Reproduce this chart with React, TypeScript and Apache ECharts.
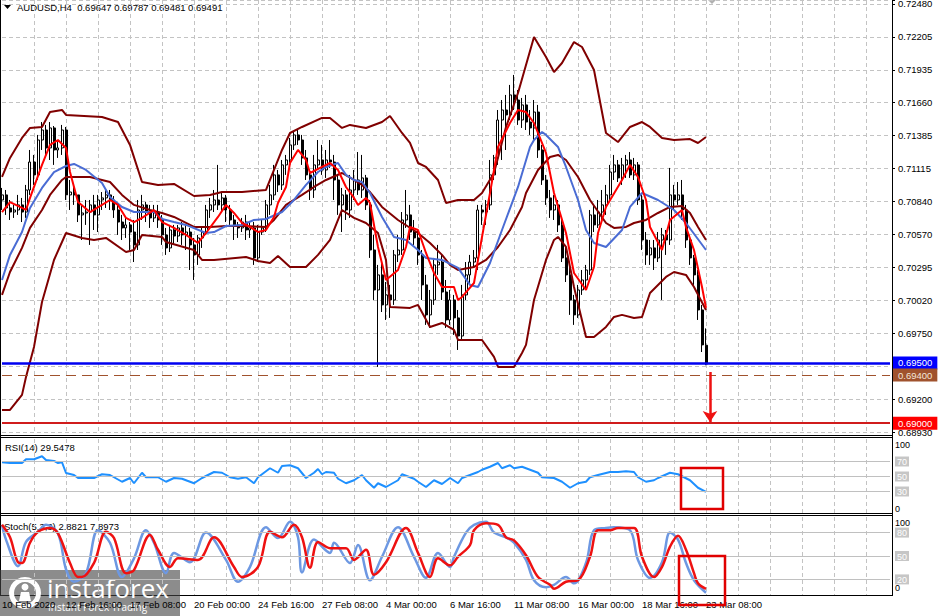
import React, { useEffect, useRef } from 'react';
import * as echarts from 'echarts';

const FONT = '"Liberation Sans", Arial, Helvetica, sans-serif';

// ---------- axes ----------
const SLOT_COUNT = 223; // bar slots across the chart width (4px each)
const X_LABEL_EVERY = 16;
const X_GRID_EVERY = 8;
const xTickLabels = [
  '10 Feb 2020', '12 Feb 16:00', '17 Feb 08:00', '20 Feb 00:00', '24 Feb 16:00', '27 Feb 08:00',
  '4 Mar 00:00', '6 Mar 16:00', '11 Mar 08:00', '16 Mar 00:00', '18 Mar 16:00', '23 Mar 08:00',
];

const Y_MIN = 0.68927;
const Y_MAX = 0.72513;
const Y_STEP = 0.0027333;
const yTickLabels = [
  '0.68930', '0.69200', '', '0.69750', '0.70020', '0.70295', '0.70570',
  '0.70840', '0.71115', '0.71385', '0.71660', '0.71935', '0.72205', '0.72480',
];

// ---------- candles (AUDUSD H4) ----------
const open = [
  0.70853, 0.70895, 0.70787, 0.70753, 0.70770, 0.70812, 0.70753, 0.70936, 0.71168, 0.71061,
  0.71351, 0.71434, 0.71285, 0.71451, 0.71268, 0.71285, 0.71434, 0.70895, 0.70919, 0.70895,
  0.70729, 0.70745, 0.70753, 0.70812, 0.70729, 0.70853, 0.70870, 0.70895, 0.70853, 0.70770,
  0.70670, 0.70621, 0.70646, 0.70587, 0.70480, 0.70770, 0.70812, 0.70753, 0.70704, 0.70753,
  0.70687, 0.70563, 0.70455, 0.70604, 0.70554, 0.70621, 0.70563, 0.70587, 0.70480, 0.70397,
  0.70538, 0.70587, 0.70770, 0.70812, 0.70853, 0.70812, 0.70870, 0.70770, 0.70687, 0.70646,
  0.70621, 0.70670, 0.70604, 0.70621, 0.70372, 0.70587, 0.70621, 0.70812, 0.70895, 0.71061,
  0.70978, 0.71144, 0.71185, 0.71310, 0.71393, 0.71351, 0.71202, 0.71061, 0.70936, 0.71144,
  0.71185, 0.71102, 0.71185, 0.71168, 0.71019, 0.70812, 0.70895, 0.70770, 0.70936, 0.71019,
  0.70936, 0.71036, 0.70812, 0.70438, 0.70106, 0.70231, 0.69982, 0.70065, 0.70023, 0.70397,
  0.70438, 0.70687, 0.70729, 0.70587, 0.70538, 0.70397, 0.70148, 0.69899, 0.70023, 0.70314,
  0.70338, 0.70089, 0.69857, 0.70023, 0.69874, 0.69724, 0.70065, 0.70231, 0.70338, 0.70372,
  0.70770, 0.70753, 0.70812, 0.71061, 0.71202, 0.71517, 0.71600, 0.71559, 0.71725, 0.71683,
  0.71517, 0.71642, 0.71500, 0.71451, 0.71583, 0.71268, 0.71019, 0.70870, 0.70770, 0.70812,
  0.70646, 0.70372, 0.70231, 0.70023, 0.69899, 0.70106, 0.70189, 0.70272, 0.70729, 0.70646,
  0.70753, 0.70812, 0.70895, 0.71085, 0.71144, 0.71036, 0.71144, 0.71185, 0.71061, 0.71144,
  0.70853, 0.70521, 0.70397, 0.70455, 0.70372, 0.70521, 0.70563, 0.70521, 0.70895, 0.70853,
  0.70895, 0.70770, 0.70521, 0.70372, 0.70231, 0.69940, 0.69647,
];
const close = [
  0.70895, 0.70787, 0.70753, 0.70770, 0.70812, 0.70753, 0.70936, 0.71168, 0.71061, 0.71351,
  0.71434, 0.71285, 0.71451, 0.71268, 0.71285, 0.71434, 0.70895, 0.70919, 0.70895, 0.70729,
  0.70745, 0.70753, 0.70812, 0.70729, 0.70853, 0.70870, 0.70895, 0.70853, 0.70770, 0.70670,
  0.70621, 0.70646, 0.70587, 0.70480, 0.70770, 0.70812, 0.70753, 0.70704, 0.70753, 0.70687,
  0.70563, 0.70455, 0.70604, 0.70554, 0.70621, 0.70563, 0.70587, 0.70480, 0.70397, 0.70538,
  0.70587, 0.70770, 0.70812, 0.70853, 0.70812, 0.70870, 0.70770, 0.70687, 0.70646, 0.70621,
  0.70670, 0.70604, 0.70621, 0.70372, 0.70587, 0.70621, 0.70812, 0.70895, 0.71061, 0.70978,
  0.71144, 0.71185, 0.71310, 0.71393, 0.71351, 0.71202, 0.71061, 0.70936, 0.71144, 0.71185,
  0.71102, 0.71185, 0.71168, 0.71019, 0.70812, 0.70895, 0.70770, 0.70936, 0.71019, 0.70936,
  0.71036, 0.70812, 0.70438, 0.70106, 0.70231, 0.69982, 0.70065, 0.70023, 0.70397, 0.70438,
  0.70687, 0.70729, 0.70587, 0.70538, 0.70397, 0.70148, 0.69899, 0.70023, 0.70314, 0.70338,
  0.70089, 0.69857, 0.70023, 0.69874, 0.69724, 0.70065, 0.70231, 0.70338, 0.70372, 0.70770,
  0.70753, 0.70812, 0.71061, 0.71202, 0.71517, 0.71600, 0.71559, 0.71725, 0.71683, 0.71517,
  0.71642, 0.71500, 0.71451, 0.71583, 0.71268, 0.71019, 0.70870, 0.70770, 0.70812, 0.70646,
  0.70372, 0.70231, 0.70023, 0.69899, 0.70106, 0.70189, 0.70272, 0.70729, 0.70646, 0.70753,
  0.70812, 0.70895, 0.71085, 0.71144, 0.71036, 0.71144, 0.71185, 0.71061, 0.71144, 0.70853,
  0.70521, 0.70397, 0.70455, 0.70372, 0.70521, 0.70563, 0.70521, 0.70895, 0.70853, 0.70895,
  0.70770, 0.70521, 0.70372, 0.70231, 0.69940, 0.69650, 0.69491,
];
const high = [
  0.70953, 0.70936, 0.70853, 0.70812, 0.70895, 0.70870, 0.70978, 0.71268, 0.71227, 0.71393,
  0.71500, 0.71476, 0.71500, 0.71467, 0.71351, 0.71476, 0.71459, 0.71019, 0.70978, 0.70895,
  0.70812, 0.70853, 0.70853, 0.70895, 0.70895, 0.70919, 0.70936, 0.70936, 0.70886, 0.70812,
  0.70729, 0.70704, 0.70670, 0.70687, 0.70853, 0.70895, 0.70836, 0.70812, 0.70812, 0.70812,
  0.70729, 0.70621, 0.70646, 0.70646, 0.70646, 0.70670, 0.70646, 0.70621, 0.70538, 0.70563,
  0.70621, 0.70812, 0.70870, 0.70936, 0.71144, 0.70919, 0.70895, 0.70812, 0.70729, 0.70670,
  0.70704, 0.70729, 0.70670, 0.70670, 0.70646, 0.70687, 0.70853, 0.70978, 0.71144, 0.71102,
  0.71185, 0.71227, 0.71368, 0.71417, 0.71434, 0.71393, 0.71268, 0.71102, 0.71227, 0.71351,
  0.71310, 0.71268, 0.71351, 0.71227, 0.71061, 0.70953, 0.70936, 0.71061, 0.71102, 0.71251,
  0.71227, 0.71061, 0.70853, 0.70563, 0.70314, 0.70355, 0.70172, 0.70148, 0.70438, 0.70563,
  0.70753, 0.70936, 0.70812, 0.70687, 0.70604, 0.70438, 0.70231, 0.70106, 0.70372, 0.70480,
  0.70397, 0.70189, 0.70106, 0.70065, 0.69940, 0.70148, 0.70338, 0.70397, 0.70438, 0.70812,
  0.70812, 0.70853, 0.71185, 0.71227, 0.71600, 0.71683, 0.71725, 0.71808, 0.71891, 0.71766,
  0.71700, 0.71725, 0.71600, 0.71683, 0.71642, 0.71310, 0.71061, 0.70936, 0.70895, 0.70853,
  0.70704, 0.70480, 0.70314, 0.70065, 0.70148, 0.70272, 0.70314, 0.70770, 0.70812, 0.70853,
  0.70936, 0.70978, 0.71144, 0.71227, 0.71185, 0.71202, 0.71227, 0.71251, 0.71202, 0.71168,
  0.70895, 0.70587, 0.70521, 0.70521, 0.70587, 0.70621, 0.70604, 0.71119, 0.70978, 0.71002,
  0.71019, 0.70812, 0.70563, 0.70397, 0.70272, 0.69982, 0.69787,
];
const low = [
  0.70770, 0.70729, 0.70687, 0.70704, 0.70729, 0.70670, 0.70704, 0.70895, 0.70978, 0.71019,
  0.71268, 0.71227, 0.71185, 0.71144, 0.71202, 0.71227, 0.70853, 0.70770, 0.70812, 0.70670,
  0.70521, 0.70646, 0.70480, 0.70604, 0.70587, 0.70770, 0.70787, 0.70770, 0.70704, 0.70563,
  0.70521, 0.70538, 0.70438, 0.70338, 0.70438, 0.70687, 0.70670, 0.70621, 0.70670, 0.70621,
  0.70480, 0.70397, 0.70421, 0.70480, 0.70504, 0.70480, 0.70438, 0.70272, 0.70189, 0.70314,
  0.70455, 0.70563, 0.70704, 0.70753, 0.70770, 0.70753, 0.70670, 0.70646, 0.70521, 0.70538,
  0.70587, 0.70521, 0.70538, 0.70314, 0.70338, 0.70563, 0.70587, 0.70729, 0.70853, 0.70919,
  0.70936, 0.71061, 0.71144, 0.71268, 0.71310, 0.71144, 0.71019, 0.70853, 0.70870, 0.71102,
  0.71061, 0.71036, 0.71119, 0.70853, 0.70729, 0.70587, 0.70687, 0.70704, 0.70853, 0.70895,
  0.70870, 0.70770, 0.70372, 0.70023, 0.69467, 0.69923, 0.69857, 0.69874, 0.69982, 0.70338,
  0.70397, 0.70621, 0.70521, 0.70480, 0.70314, 0.70023, 0.69816, 0.69791, 0.69982, 0.70231,
  0.70023, 0.69791, 0.69816, 0.69733, 0.69608, 0.69691, 0.70023, 0.70148, 0.70289, 0.70272,
  0.70646, 0.70646, 0.70770, 0.71019, 0.71144, 0.71185, 0.71268, 0.71517, 0.71600, 0.71476,
  0.71451, 0.71434, 0.71393, 0.71351, 0.71202, 0.70978, 0.70812, 0.70704, 0.70687, 0.70587,
  0.70338, 0.70172, 0.69899, 0.69816, 0.69874, 0.70065, 0.70106, 0.70231, 0.70587, 0.70621,
  0.70670, 0.70729, 0.70853, 0.71019, 0.71002, 0.70978, 0.71036, 0.71036, 0.71019, 0.70812,
  0.70438, 0.70314, 0.70314, 0.70272, 0.70338, 0.70023, 0.70397, 0.70480, 0.70770, 0.70812,
  0.70687, 0.70455, 0.70314, 0.70148, 0.69857, 0.69591, 0.69481,
];

// ---------- overlays: [bar index, price] ----------
const bbUpper: [number, number][] = [
  [0, 0.71044], [2, 0.71202], [5, 0.71368], [7, 0.71451], [10, 0.71459], [12, 0.71583], [15, 0.71600],
  [16, 0.71559], [25, 0.71542], [29, 0.71500], [32, 0.71310], [35, 0.71002], [39, 0.70978], [43, 0.70986],
  [48, 0.70886], [52, 0.70895], [55, 0.70919], [60, 0.70919], [66, 0.70936], [68, 0.71102], [70, 0.71268],
  [72, 0.71409], [75, 0.71459], [80, 0.71534], [82, 0.71534], [85, 0.71451], [87, 0.71476], [91, 0.71451],
  [95, 0.71500], [97, 0.71550], [100, 0.71409], [102, 0.71326], [104, 0.71160], [106, 0.71127], [109, 0.71019],
  [111, 0.70828], [114, 0.70853], [118, 0.70853], [120, 0.70911], [123, 0.71077], [126, 0.71459], [129, 0.71741],
  [133, 0.72206], [136, 0.72040], [138, 0.71915], [140, 0.71990], [143, 0.72164], [145, 0.72123], [148, 0.71932],
  [151, 0.71409], [154, 0.71334], [157, 0.71459], [160, 0.71500], [162, 0.71459], [165, 0.71368], [168, 0.71351],
  [172, 0.71359], [174, 0.71326], [176, 0.71376],
];
const bbMiddle: [number, number][] = [
  [0, 0.70065], [2, 0.70255], [5, 0.70455], [7, 0.70621], [10, 0.70770], [12, 0.70895], [15, 0.71019],
  [16, 0.71044], [22, 0.71044], [27, 0.71002], [30, 0.70895], [33, 0.70812], [37, 0.70770], [40, 0.70745],
  [43, 0.70712], [48, 0.70629], [52, 0.70629], [56, 0.70637], [60, 0.70637], [66, 0.70629], [68, 0.70687],
  [71, 0.70812], [75, 0.70895], [78, 0.70961], [81, 0.71019], [85, 0.71077], [88, 0.71019], [90, 0.70978],
  [92, 0.70919], [95, 0.70795], [99, 0.70687], [104, 0.70579], [107, 0.70496], [110, 0.70397], [112, 0.70314],
  [114, 0.70272], [118, 0.70297], [121, 0.70355], [124, 0.70463], [127, 0.70604], [130, 0.70795], [131, 0.70911],
  [134, 0.71102], [137, 0.71210], [139, 0.71227], [141, 0.71185], [144, 0.71044], [147, 0.70853], [151, 0.70662],
  [153, 0.70621], [156, 0.70629], [158, 0.70662], [161, 0.70687], [164, 0.70745], [167, 0.70795], [170, 0.70803],
  [172, 0.70745], [174, 0.70629], [176, 0.70521],
];
const bbLower: [number, number][] = [
  [0, 0.69110], [2, 0.69110], [5, 0.69235], [6, 0.69384], [8, 0.69633], [10, 0.70006], [13, 0.70355],
  [16, 0.70579], [20, 0.70538], [23, 0.70521], [26, 0.70538], [31, 0.70421], [33, 0.70438], [35, 0.70563],
  [40, 0.70546], [41, 0.70504], [48, 0.70438], [50, 0.70355], [53, 0.70355], [61, 0.70380], [64, 0.70347],
  [67, 0.70330], [69, 0.70388], [72, 0.70297], [76, 0.70297], [79, 0.70397], [82, 0.70521], [85, 0.70770],
  [88, 0.70704], [91, 0.70662], [94, 0.70579], [96, 0.70355], [97, 0.69965], [102, 0.69957], [104, 0.69982],
  [107, 0.69799], [110, 0.69832], [113, 0.69774], [114, 0.69691], [120, 0.69691], [123, 0.69550], [124, 0.69467],
  [128, 0.69467], [130, 0.69583], [131, 0.69650], [133, 0.70023], [136, 0.70355], [138, 0.70521], [139, 0.70546],
  [141, 0.70463], [143, 0.70131], [146, 0.69716], [148, 0.69716], [151, 0.69799], [153, 0.69882], [155, 0.69899],
  [158, 0.69874], [160, 0.69882], [162, 0.70081], [166, 0.70214], [168, 0.70255], [171, 0.70231], [173, 0.70131],
  [176, 0.69940],
];
const slowMa: [number, number][] = [
  [0, 0.70189], [2, 0.70397], [5, 0.70587], [7, 0.70787], [10, 0.70953], [13, 0.71085], [16, 0.71135],
  [18, 0.71152], [21, 0.71102], [25, 0.70994], [27, 0.70878], [30, 0.70795], [33, 0.70753], [38, 0.70753],
  [40, 0.70695], [43, 0.70670], [46, 0.70646], [51, 0.70579], [53, 0.70587], [56, 0.70637], [60, 0.70646],
  [63, 0.70687], [66, 0.70695], [70, 0.70753], [73, 0.70853], [76, 0.70978], [79, 0.71085], [81, 0.71127],
  [84, 0.71160], [86, 0.71061], [88, 0.71019], [90, 0.71002], [92, 0.70911], [95, 0.70712], [98, 0.70546],
  [101, 0.70521], [104, 0.70438], [106, 0.70372], [110, 0.70355], [114, 0.70289], [117, 0.70148], [119, 0.70131],
  [122, 0.70330], [125, 0.70604], [129, 0.70961], [132, 0.71293], [133, 0.71351], [135, 0.71417], [136, 0.71393],
  [139, 0.71293], [141, 0.71127], [144, 0.70853], [146, 0.70604], [148, 0.70496], [151, 0.70463], [155, 0.70604],
  [157, 0.70795], [160, 0.70911], [164, 0.70853], [168, 0.70770], [171, 0.70662], [176, 0.70438],
];
const fastMa: [number, number][] = [
  [0, 0.70753], [2, 0.70836], [5, 0.70787], [6, 0.70770], [7, 0.70870], [10, 0.71144], [12, 0.71310],
  [14, 0.71351], [16, 0.71285], [17, 0.71085], [19, 0.70836], [22, 0.70753], [25, 0.70812], [27, 0.70853],
  [29, 0.70812], [31, 0.70704], [33, 0.70670], [35, 0.70704], [38, 0.70770], [40, 0.70670], [43, 0.70621],
  [46, 0.70563], [49, 0.70496], [51, 0.70579], [54, 0.70712], [56, 0.70812], [58, 0.70745], [60, 0.70662],
  [62, 0.70629], [64, 0.70587], [66, 0.70604], [68, 0.70712], [69, 0.70828], [71, 0.70961], [72, 0.71160],
  [74, 0.71268], [76, 0.71185], [77, 0.71077], [80, 0.71127], [82, 0.71160], [84, 0.71102], [86, 0.70961],
  [88, 0.70870], [89, 0.70812], [91, 0.70870], [92, 0.70828], [94, 0.70463], [96, 0.70189], [99, 0.70272],
  [101, 0.70463], [102, 0.70629], [104, 0.70604], [106, 0.70413], [108, 0.70247], [110, 0.70131], [113, 0.70131],
  [114, 0.70023], [115, 0.70048], [118, 0.70164], [120, 0.70546], [122, 0.70911], [124, 0.71293], [127, 0.71492],
  [129, 0.71600], [131, 0.71583], [133, 0.71492], [136, 0.71243], [138, 0.70911], [141, 0.70579], [143, 0.70247],
  [146, 0.70106], [148, 0.70297], [149, 0.70579], [151, 0.70795], [155, 0.71019], [157, 0.71144], [159, 0.71044],
  [161, 0.70853], [162, 0.70629], [165, 0.70438], [167, 0.70687], [170, 0.70770], [171, 0.70629], [173, 0.70438],
  [175, 0.70131], [176, 0.69957],
];

// ---------- horizontal levels / arrow ----------
const priceLevels = [0.695, 0.694, 0.69];
const arrowBar = 177;
const arrowFrom = 0.69425;
const arrowTo = 0.6901;

// ---------- RSI(14) ----------
const rsiValue = '29.5478';
const rsiLevels = [70, 50, 30];
const rsi: [number, number][] = [
  [0, 69], [2, 68], [5, 68], [6, 73], [8, 73], [10, 77], [11, 72], [13, 70.7], [14, 68], [15, 69], [16, 54.7],
  [18, 52], [19, 48], [21, 48], [23, 48], [25, 53], [27, 52], [30, 43], [32, 48], [33, 41], [35, 55], [36, 49],
  [39, 49], [41, 43], [43, 48], [45, 47], [48, 41], [50, 48], [53, 56], [55, 55], [57, 49], [59, 47], [61, 49],
  [63, 41], [64, 49], [67, 61], [69, 55], [70, 64], [72, 65], [74, 61], [76, 48], [78, 55], [79, 60], [80, 53],
  [81, 56], [83, 55], [84, 47], [86, 41], [88, 45], [90, 52], [91, 45], [93, 35], [94, 41], [96, 36], [97, 39],
  [99, 45], [100, 53], [103, 47], [104, 43], [106, 36], [108, 45], [110, 40], [112, 48], [114, 41], [115, 48],
  [117, 52], [119, 56], [120, 59], [122, 63], [124, 68], [125, 61], [127, 65], [128, 61], [130, 63], [132, 59],
  [134, 55], [135, 49], [138, 48], [140, 43], [142, 35], [144, 41], [146, 43], [147, 49], [149, 52], [152, 56],
  [154, 56], [156, 57], [158, 56], [159, 49], [161, 43], [163, 45], [164, 48], [167, 55], [169, 53], [172, 45],
  [174, 35], [176, 29.55],
];

// ---------- Stochastic(5,3,3) ----------
const stochMainValue = '2.8821';
const stochSignalValue = '7.8973';
const stochLevels = [80, 50, 20];
const stochMain: [number, number][] = [
  [0, 90], [1, 71], [4, 37], [6, 68], [9, 81], [11, 90], [14, 79], [16, 33], [18, 17], [21, 28], [24, 83],
  [27, 67], [30, 23], [33, 47], [36, 83], [38, 67], [41, 28], [43, 54], [47, 42], [51, 80], [56, 45], [59, 17],
  [62, 36], [66, 87], [69, 73], [72, 94], [74, 74], [75, 29], [78, 71], [82, 54], [83, 67], [87, 41], [89, 64],
  [92, 19], [95, 49], [99, 87], [103, 49], [106, 22], [109, 54], [112, 36], [113, 49], [116, 80], [118, 90],
  [121, 94], [123, 80], [126, 74], [128, 67], [131, 45], [133, 19], [136, 10], [138, 13], [141, 23], [143, 15],
  [146, 41], [148, 83], [151, 86], [153, 87], [157, 83], [159, 45], [162, 22], [165, 42], [167, 80], [169, 71],
  [171, 41], [173, 19], [176, 2.9],
];
const stochSignal: [number, number][] = [
  [0, 90], [2, 74], [4, 42], [5, 41], [7, 67], [9, 81], [12, 86], [14, 79], [17, 41], [19, 23], [20, 23],
  [23, 41], [26, 81], [28, 73], [31, 28], [33, 32], [37, 77], [39, 58], [42, 36], [44, 47], [49, 45], [53, 74],
  [58, 36], [60, 23], [64, 36], [67, 81], [70, 74], [73, 90], [75, 74], [77, 35], [79, 68], [82, 60], [86, 60],
  [88, 45], [91, 58], [93, 26], [96, 42], [101, 86], [104, 54], [107, 23], [109, 47], [112, 38], [114, 49],
  [117, 64], [118, 83], [121, 92], [124, 90], [126, 74], [128, 70], [131, 51], [134, 23], [137, 13], [138, 8],
  [141, 17], [144, 19], [147, 49], [149, 83], [152, 83], [154, 86], [158, 86], [160, 49], [163, 23], [165, 36],
  [167, 62], [169, 76], [171, 58], [173, 28], [174, 15], [176, 7.9],
];

function buildOption(): any {
  const cats = Array.from({ length: SLOT_COUNT }, (_, i) => String(i));
  const candles = open.map((o, i) => [o, close[i], low[i], high[i]]);
  const dash = { color: '#c3c3c3', type: [4, 3], width: 1 };
  const grids = [
    { left: 2, top: 0, width: 888, height: 432 },
    { left: 2, top: 439, width: 888, height: 75 },
    { left: 2, top: 517, width: 888, height: 78 },
  ].map((g) => ({ ...g, show: false, containLabel: false, outerBoundsMode: 'none' }));

  const xAxis = [0, 1, 2].map((gi) => ({
    type: 'category',
    gridIndex: gi,
    data: cats,
    boundaryGap: false,
    axisLine: { show: false },
    axisTick: { show: false },
    axisLabel:
      gi === 2
        ? {
            show: true,
            interval: (i: number) => i % X_LABEL_EVERY === 0 && i / X_LABEL_EVERY < xTickLabels.length,
            formatter: (_v: string, i: number) => xTickLabels[i / X_LABEL_EVERY] ?? '',
            align: 'left',
            margin: 4,
            color: '#000',
            fontFamily: FONT,
            fontSize: 9.5,
          }
        : { show: false },
    splitLine: { show: true, interval: (i: number) => i > 0 && i % X_GRID_EVERY === 0, lineStyle: dash },
  }));

  const levelRich = (topPad: number, botPad: number, lv: number[]) => ({
    show: true,
    margin: 3,
    formatter: (v: number) => {
      const r = Math.round(v);
      if (r === 100) return '{t|100}';
      if (r === 0) return '{b|0}';
      if (lv.includes(r)) return `{g|${r}}`;
      return '';
    },
    rich: {
      t: { color: '#000', fontSize: 9, fontFamily: FONT, padding: [topPad, 0, 0, 0] },
      b: { color: '#000', fontSize: 9, fontFamily: FONT, padding: [0, 0, botPad, 0] },
      g: { color: '#ffffff', backgroundColor: '#c6c6c6', fontSize: 9, fontFamily: FONT, padding: [1, 2, 0, 2] },
    },
  });

  const yAxis = [
    {
      type: 'value',
      gridIndex: 0,
      position: 'right',
      offset: 2,
      min: Y_MIN,
      max: Y_MAX,
      interval: Y_STEP,
      axisLine: { show: true, lineStyle: { color: '#000', width: 1 } },
      axisTick: { show: true, length: 3, lineStyle: { color: '#000' } },
      axisLabel: {
        show: true,
        margin: 6,
        color: '#000',
        fontFamily: FONT,
        fontSize: 9.5,
        formatter: (v: number) => {
          const k = Math.round((v - Y_MIN) / Y_STEP);
          if (Math.abs(v - (Y_MIN + k * Y_STEP)) > Y_STEP * 0.05) return '';
          return yTickLabels[k] ?? '';
        },
      },
      splitLine: { show: true, lineStyle: dash },
    },
    {
      type: 'value',
      gridIndex: 1,
      position: 'right',
      offset: 2,
      min: 0,
      max: 100,
      interval: 10,
      axisLine: { show: true, lineStyle: { color: '#000', width: 1 } },
      axisTick: { show: false },
      axisLabel: levelRich(12, 10, rsiLevels),
      splitLine: { show: false },
    },
    {
      type: 'value',
      gridIndex: 2,
      position: 'right',
      offset: 2,
      min: 0,
      max: 100,
      interval: 10,
      axisLine: { show: true, lineStyle: { color: '#000', width: 1 } },
      axisTick: { show: false },
      axisLabel: levelRich(12, 14, stochLevels),
      splitLine: { show: false },
    },
  ];

  const levelLabel = (bg: string, fg: string) => ({
    show: true,
    position: 'end',
    distance: 3,
    formatter: (p: any) => Number(p.value).toFixed(5),
    backgroundColor: bg,
    color: fg,
    fontFamily: FONT,
    fontSize: 9.5,
    lineHeight: 11,
    padding: [1, 5, 1, 5],
  });

  const line = (data: [number, number][], color: string, width: number, xi = 0, extra: any = {}) => ({
    type: 'line',
    xAxisIndex: xi,
    yAxisIndex: xi,
    data,
    symbol: 'none',
    smooth: false,
    silent: true,
    lineStyle: { color, width },
    ...extra,
  });

  const series: any[] = [
    {
      type: 'candlestick',
      xAxisIndex: 0,
      yAxisIndex: 0,
      data: candles,
      barWidth: 2.5,
      silent: true,
      itemStyle: { color: '#ffffff', color0: '#000000', borderColor: '#000000', borderColor0: '#000000', borderWidth: 1 },
      markLine: {
        silent: true,
        symbol: 'none',
        animation: false,
        precision: 5,
        data: [
          { yAxis: priceLevels[0], lineStyle: { color: '#0000f0', width: 2.5, type: 'solid' }, label: levelLabel('#0000ff', '#ffffff') },
          { yAxis: priceLevels[1], lineStyle: { color: '#a0522d', width: 1, type: [10, 6] }, label: levelLabel('#a0522d', '#f3e6da') },
          { yAxis: priceLevels[2], lineStyle: { color: '#d01c1c', width: 2, type: 'solid' }, label: levelLabel('#ff0000', '#ffffff') },
        ],
      },
    },
    line(bbUpper, '#800000', 2),
    line(bbMiddle, '#800000', 2),
    line(bbLower, '#800000', 2),
    line(slowMa, '#4a6cd4', 2),
    line(fastMa, '#ff0000', 2, 0, {
      markLine: {
        silent: true,
        animation: false,
        precision: 5,
        symbol: ['none', 'arrow'],
        symbolSize: 11,
        label: { show: false },
        lineStyle: { color: '#ee1111', width: 2.5, type: 'solid' },
        data: [[{ coord: [arrowBar, arrowFrom] }, { coord: [arrowBar, arrowTo] }]],
      },
    }),
    line(rsi, '#1e90ff', 2, 1, {
      markLine: {
        silent: true,
        animation: false,
        symbol: 'none',
        label: { show: false },
        lineStyle: { color: '#c0c0c0', width: 1, type: 'solid' },
        data: rsiLevels.map((v) => ({ yAxis: v })),
      },
    }),
    line(stochMain, '#6d98e2', 2.5, 2, {
      smooth: 0.35,
      markLine: {
        silent: true,
        animation: false,
        symbol: 'none',
        label: { show: false },
        lineStyle: { color: '#c0c0c0', width: 1, type: 'solid' },
        data: stochLevels.map((v) => ({ yAxis: v })),
      },
    }),
    line(stochSignal, '#ee1111', 2.5, 2, { smooth: 0.35 }),
  ];

  const blk = { stroke: '#000', lineWidth: 1 };
  const title = `AUDUSD,H4\u00a0\u00a0${open[open.length - 1].toFixed(5)} ${high[high.length - 1].toFixed(5)} ${low[low.length - 1].toFixed(5)} ${close[close.length - 1].toFixed(5)}`;
  const txt = (text: string, x: number, y: number, font: string, fill = '#000') => ({
    type: 'text',
    silent: true,
    style: { text, x, y, font, fill, align: 'left', verticalAlign: 'middle', textAlign: 'left', textVerticalAlign: 'middle' },
  });

  const graphic: any[] = [
    { type: 'line', silent: true, shape: { x1: 0.5, y1: 0, x2: 0.5, y2: 596 }, style: blk },
    { type: 'line', silent: true, shape: { x1: 892.5, y1: 0, x2: 892.5, y2: 596 }, style: blk },
    { type: 'line', silent: true, shape: { x1: 0, y1: 435.5, x2: 892, y2: 435.5 }, style: blk },
    { type: 'line', silent: true, shape: { x1: 0, y1: 437.5, x2: 892, y2: 437.5 }, style: blk },
    { type: 'line', silent: true, shape: { x1: 0, y1: 513.5, x2: 892, y2: 513.5 }, style: blk },
    { type: 'line', silent: true, shape: { x1: 0, y1: 515.5, x2: 892, y2: 515.5 }, style: blk },
    { type: 'line', silent: true, shape: { x1: 0, y1: 595.5, x2: 892, y2: 595.5 }, style: blk },
    { type: 'polygon', silent: true, shape: { points: [[4, 5], [11, 5], [7.5, 9]] }, style: { fill: '#000' } },
    { type: 'polygon', silent: true, shape: { points: [[708, 0], [716, 0], [712, 4]] }, style: { fill: '#b0b0b0' } },
    txt(title, 17, 7, `9.5px ${FONT}`),
    txt(`RSI(14) ${rsiValue}`, 5, 447, `9.5px ${FONT}`),
    txt(`Stoch(5,3,3) ${stochMainValue} ${stochSignalValue}`, 4, 526, `9.5px ${FONT}`),
    { type: 'rect', silent: true, z: 50, shape: { x: 681, y: 468, width: 42, height: 41 }, style: { fill: 'none', stroke: '#e00000', lineWidth: 2.5 } },
    { type: 'rect', silent: true, z: 50, shape: { x: 679, y: 556, width: 46, height: 49 }, style: { fill: 'none', stroke: '#e00000', lineWidth: 2.5 } },
    {
      type: 'group',
      silent: true,
      z: 100,
      children: [
        { type: 'rect', shape: { x: 0, y: 570, width: 180, height: 46 }, style: { fill: 'rgba(70,70,70,0.62)' } },
        { type: 'ring', shape: { cx: 25, cy: 593, r: 16, r0: 11 }, style: { fill: '#ffffff' } },
        { type: 'circle', shape: { cx: 25, cy: 587, r: 3.5 }, style: { fill: '#ffffff' } },
        { type: 'polygon', shape: { points: [[19, 601], [31, 601], [29, 592], [21, 592]] }, style: { fill: '#ffffff' } },
        txt('instaforex', 47, 588, `26px "Open Sans", "Noto Sans", sans-serif`, '#ffffff'),
        txt('Instant Forex Trading', 48, 607, `10px "Open Sans", "Noto Sans", sans-serif`, '#ffffff'),
      ],
    },
  ];

  return {
    animation: false,
    backgroundColor: '#ffffff',
    textStyle: { fontFamily: FONT },
    grid: grids,
    xAxis,
    yAxis,
    series,
    graphic,
  };
}

export default function App() {
  const ref = useRef<HTMLDivElement>(null);
  useEffect(() => {
    if (!ref.current) return;
    const chart = echarts.init(ref.current, null, { renderer: 'svg' });
    chart.setOption(buildOption());
    return () => chart.dispose();
  }, []);
  return <div ref={ref} style={{ position: 'absolute', left: 0, top: 0, width: 939, height: 616 }} />;
}
